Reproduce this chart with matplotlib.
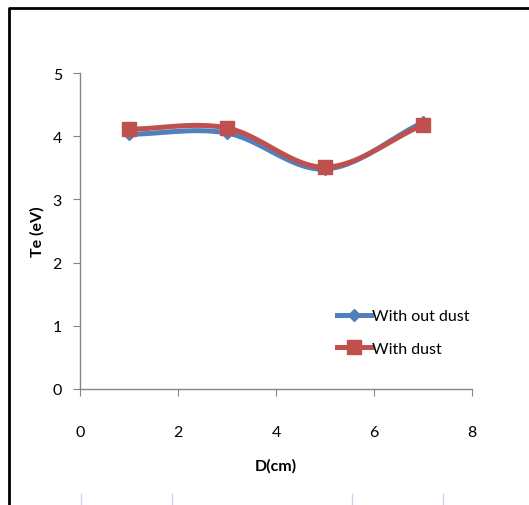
import numpy as np
import matplotlib
matplotlib.use("Agg")
import matplotlib.pyplot as plt
from matplotlib.lines import Line2D

plt.rcParams['font.family'] = ['Lato', 'DejaVu Sans']

# data
d_cm = [1, 3, 5, 7]
te_without_dust = [4.03, 4.05, 3.48, 4.22]
te_with_dust = [4.11, 4.13, 3.51, 4.18]

blue = '#4F81BD'
red = '#C0504D'
gray = '#868686'


def smooth(x, y, n=40):
    # Catmull-Rom curve through the points, like Excel's smoothed line
    x = np.asarray(x, float)
    y = np.asarray(y, float)
    px = np.concatenate([[2 * x[0] - x[1]], x, [2 * x[-1] - x[-2]]])
    py = np.concatenate([[2 * y[0] - y[1]], y, [2 * y[-1] - y[-2]]])
    xs, ys = [], []
    t = np.linspace(0, 1, n)
    for i in range(1, len(px) - 2):
        for p, out in ((px, xs), (py, ys)):
            p0, p1, p2, p3 = p[i - 1], p[i], p[i + 1], p[i + 2]
            out.append(0.5 * ((2 * p1) + (-p0 + p2) * t
                              + (2 * p0 - 5 * p1 + 4 * p2 - p3) * t ** 2
                              + (-p0 + 3 * p1 - 3 * p2 + p3) * t ** 3))
    return np.concatenate(xs), np.concatenate(ys)


fig = plt.figure(figsize=(5.29, 5.06), dpi=100)
ax = fig.add_axes([80 / 529, 1 - 390 / 506, 392 / 529, 316 / 506])

sx, sy = smooth(d_cm, te_without_dust)
ax.plot(sx, sy, color=blue, lw=3.6, solid_capstyle='round')
ax.plot(d_cm, te_without_dust, 'D', color=blue, ms=6, ls='none')
sx, sy = smooth(d_cm, te_with_dust)
ax.plot(sx, sy, color=red, lw=3.6, solid_capstyle='round')
ax.plot(d_cm, te_with_dust, 's', color=red, ms=9.5, ls='none')

ax.set_xlim(0, 8)
ax.set_ylim(0, 5)
ax.set_xticks([0, 2, 4, 6, 8])
ax.set_yticks([0, 1, 2, 3, 4, 5])
for s in ['top', 'right']:
    ax.spines[s].set_visible(False)
for s in ['left', 'bottom']:
    ax.spines[s].set_color(gray)
    ax.spines[s].set_linewidth(1)
ax.tick_params(axis='both', direction='out', length=5, color=gray, labelsize=11.5)
ax.tick_params(axis='x', pad=21)
ax.tick_params(axis='y', pad=8)

ax.set_xlabel('D(cm)', fontsize=11.5, fontweight='bold', labelpad=14)
ax.set_ylabel('Te (eV)', fontsize=11.5, fontweight='bold', labelpad=6)

handles = [
    Line2D([], [], color=blue, lw=3.6, marker='D', ms=6),
    Line2D([], [], color=red, lw=3.6, marker='s', ms=9.5),
]
ax.legend(handles, ['With out dust', 'With dust'], loc='upper left',
          bbox_to_anchor=(0.632, 0.283), frameon=False, fontsize=11.5,
          handlelength=2.1, handletextpad=0.1, labelspacing=1.15,
          borderaxespad=0.2)

# outer frame (left and top edges of the pasted picture)
fy = 1 - 9 / 506
fx = 9 / 529
fig.add_artist(Line2D([fx, fx, 1], [0, fy, fy], color='black', lw=2,
                      transform=fig.transFigure))
# faint tick marks cut off at the bottom edge
for px in [81, 172, 352, 443]:
    fig.add_artist(Line2D([px / 529, px / 529], [0, 11 / 506], color='#C8D4E8',
                          lw=1, transform=fig.transFigure))

fig.savefig('out.png', dpi=100)
